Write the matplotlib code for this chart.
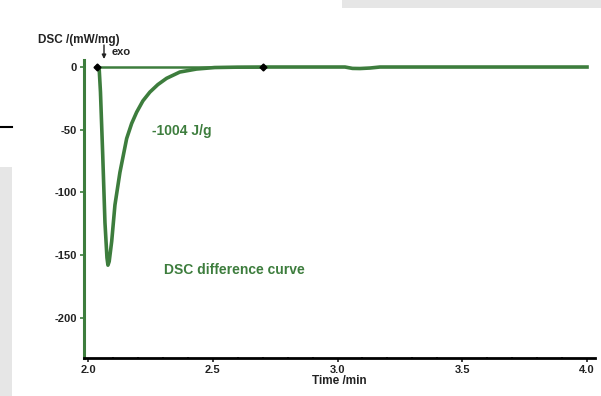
import matplotlib
matplotlib.use("Agg")
import matplotlib.pyplot as plt
from matplotlib.patches import Rectangle
from matplotlib.lines import Line2D
from matplotlib.ticker import MultipleLocator

plt.rcParams['axes.unicode_minus'] = False
plt.rcParams['font.family'] = ['Liberation Sans', 'DejaVu Sans']

# DSC difference curve (time in min, DSC in mW/mg)
time = [2.036, 2.045, 2.050, 2.059, 2.068, 2.076, 2.080, 2.085, 2.095, 2.108,
        2.128, 2.155, 2.175, 2.195, 2.220, 2.248, 2.280, 2.315, 2.368, 2.435,
        2.508, 2.600, 2.700, 2.900, 3.030, 3.060, 3.090, 3.130, 3.170,
        3.500, 4.000]
dsc = [0, -2, -20, -70, -124, -152, -158, -155, -139, -110,
       -84, -57, -45, -36, -27, -20, -14, -9, -4, -1.6,
       -0.4, -0.1, 0, 0, 0, -1.1, -1.2, -0.8, 0,
       0, 0]

# integration baseline limits
base_t = [2.036, 2.70]
base_v = [0, 0]

x_ticks = [2.0, 2.5, 3.0, 3.5, 4.0]
x_labels = ["2.0", "2.5", "3.0", "3.5", "4.0"]
y_ticks = [0, -50, -100, -150, -200]
y_labels = ["0", "-50", "-100", "-150", "-200"]

green = '#3d7d3d'

fig = plt.figure(figsize=(6.01, 3.96), dpi=100)

# screenshot background artifacts
fig.patches.append(Rectangle((342/601, 1-8/396), 259/601, 8/396, transform=fig.transFigure,
                             facecolor='#e6e6e6', edgecolor='none', zorder=0))
fig.patches.append(Rectangle((0, 0), 12/601, (396-167)/396, transform=fig.transFigure,
                             facecolor='#e6e6e6', edgecolor='none', zorder=0))
fig.lines.append(Line2D([0, 12/601], [1-127/396, 1-127/396], transform=fig.transFigure,
                        color='black', lw=1.5))

ax = fig.add_axes([84/601, 38/396, (595-84)/601, (358-60)/396])
ax.set_xlim(1.984, 4.032)
ax.set_ylim(-232, 5.6)

ax.plot(base_t, base_v, color=green, lw=1.8, zorder=2)
ax.plot(time, dsc, color=green, lw=2.6, zorder=3, solid_joinstyle='round')
ax.plot(base_t, base_v, ls='none', marker='D', ms=3.5, color='black', zorder=4)

for s in ['top', 'right']:
    ax.spines[s].set_visible(False)
ax.spines['left'].set_color(green)
ax.spines['left'].set_linewidth(2.2)
ax.spines['bottom'].set_color('black')
ax.spines['bottom'].set_linewidth(2.0)

ax.set_xticks(x_ticks)
ax.set_xticklabels(x_labels)
ax.set_yticks(y_ticks)
ax.set_yticklabels(y_labels)
ax.xaxis.set_minor_locator(MultipleLocator(0.1))
ax.yaxis.set_minor_locator(MultipleLocator(10))
ax.tick_params(axis='both', which='major', labelsize=8, length=3, width=1.2,
               colors='#222222', pad=2)
ax.tick_params(axis='y', which='both', color=green)
ax.tick_params(axis='both', which='minor', length=2, width=1.2, direction='inout')
for lab in ax.get_xticklabels() + ax.get_yticklabels():
    lab.set_fontweight('bold')

ax.set_xlabel("Time /min", fontsize=8.5, fontweight='bold', color='#222222', labelpad=0)

fig.text(38/601, 1-40/396, "DSC /(mW/mg)", fontsize=8.5, fontweight='bold',
         color='#222222', ha='left', va='center')
ax.annotate("", xy=(104/601, 1-59/396), xytext=(104/601, 1-45/396),
            xycoords='figure fraction', textcoords='figure fraction',
            arrowprops=dict(arrowstyle='-|>', color='#222222', lw=1.0,
                            mutation_scale=6, shrinkA=0, shrinkB=0))
fig.text(112/601, 1-52/396, "exo", fontsize=8, fontweight='bold',
         color='#222222', ha='left', va='center')

ax.text(2.377, -51, "-1004 J/g", fontsize=10, fontweight='bold', color=green,
        ha='center', va='center')
ax.text(2.585, -162, "DSC difference curve", fontsize=10, fontweight='bold', color=green,
        ha='center', va='center')

fig.savefig("out.png", dpi=100)
